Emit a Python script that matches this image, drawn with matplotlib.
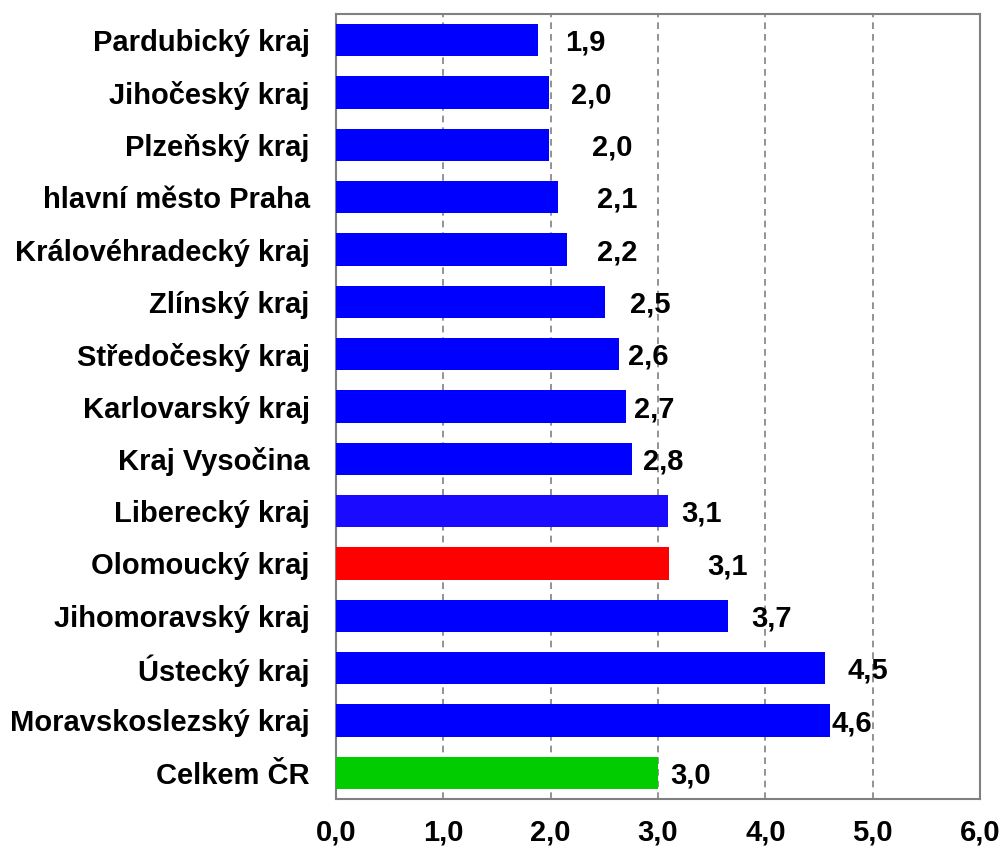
import matplotlib
matplotlib.use('Agg')
import matplotlib.pyplot as plt

regions = ['Pardubický kraj', 'Jihočeský kraj', 'Plzeňský kraj', 'hlavní město Praha',
           'Královéhradecký kraj', 'Zlínský kraj', 'Středočeský kraj', 'Karlovarský kraj',
           'Kraj Vysočina', 'Liberecký kraj', 'Olomoucký kraj', 'Jihomoravský kraj',
           'Ústecký kraj', 'Moravskoslezský kraj', 'Celkem ČR']
values = [1.88, 1.98, 1.98, 2.07, 2.15, 2.51, 2.64, 2.70, 2.76, 3.09, 3.10, 3.65, 4.56, 4.60, 3.0]
labels = ['1,9', '2,0', '2,0', '2,1', '2,2', '2,5', '2,6', '2,7', '2,8', '3,1', '3,1', '3,7',
          '4,5', '4,6', '3,0']
colors = ['#0000ff'] * 9 + ['#1a0aff', '#ff0000', '#0000ff', '#0000ff', '#0000ff', '#00cc00']
# label gaps after bar end (points), like the original layout
gaps = [20, 16, 31, 28, 22, 18, 6, 6, 8, 10, 28, 17, 16, 1, 9]

plt.rcParams['font.family'] = ['Liberation Sans', 'DejaVu Sans']
plt.rcParams['font.weight'] = 'bold'
fs = 21

fig = plt.figure(figsize=(10.04, 8.49), dpi=100)
ax = fig.add_axes([0.3347, 0.0589, 0.6414, 0.9246])

y = list(range(len(regions)))
ax.barh(y, values, height=0.62, color=colors, zorder=3)
for yi, v, lab, g in zip(y, values, labels, gaps):
    ax.annotate(lab, (v, yi), xytext=(g, -2), textcoords='offset points',
                va='center', ha='left', fontsize=fs, fontweight='bold')

ax.set_ylim(len(regions) - 0.5, -0.5)
ax.set_xlim(0, 6)
ax.set_yticks(y)
ax.set_yticklabels(regions, fontsize=fs, fontweight='bold')
ax.set_xticks([0, 1, 2, 3, 4, 5, 6])
ax.set_xticklabels(['0,0', '1,0', '2,0', '3,0', '4,0', '5,0', '6,0'], fontsize=fs, fontweight='bold')
ax.tick_params(axis='both', length=0)
ax.tick_params(axis='y', pad=19)
ax.tick_params(axis='x', pad=14)
ax.grid(axis='x', color='#808080', linestyle=(0, (4, 3)), linewidth=1.2, zorder=0)
for s in ax.spines.values():
    s.set_color('#808080')
    s.set_linewidth(1.5)

fig.savefig('out.png', dpi=100)
